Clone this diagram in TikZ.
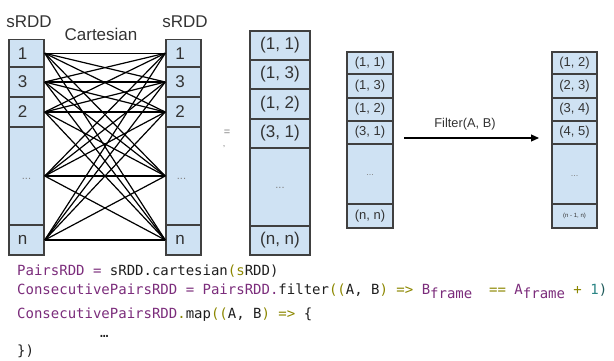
\documentclass[tikz,border=0pt]{standalone}
\usepackage{fontspec}
\setmainfont{Liberation Sans}
\setmonofont{DejaVu Sans Mono}
\usetikzlibrary{arrows.meta}

\definecolor{cellfill}{HTML}{CFE2F3}
\definecolor{cellline}{HTML}{404040}
\definecolor{labeltext}{HTML}{333333}
\definecolor{dotgray}{HTML}{808080}
\definecolor{kwpurple}{HTML}{7B2C7B}
\definecolor{opolive}{HTML}{8C8700}
\definecolor{numteal}{HTML}{2A8585}
\definecolor{parteal}{HTML}{1F5A5A}
\definecolor{codeink}{HTML}{1E1E1E}

\newcommand{\dotsgray}[1]{{\color{dotgray}\fontsize{#1}{#1}\selectfont ...}}
\newcommand{\subframe}{\raisebox{-4.5pt}{frame}}

\begin{document}
\begin{tikzpicture}[x=1pt,y=-1pt,
  cell/.style={draw=cellline, fill=cellfill, line width=1.5pt, inner sep=0pt, text=labeltext},
  bigcell/.style={cell, font=\fontsize{17}{19}\selectfont},
  midcell/.style={cell, font=\fontsize{13}{15}\selectfont},
  leftcol/.style={bigcell, minimum width=35pt},
  paircol/.style={bigcell, minimum width=60pt},
  midcol/.style={midcell, minimum width=46pt},
  endcol/.style={midcell, minimum width=45pt},
  heading/.style={text=labeltext, font=\fontsize{17}{19}\selectfont, inner sep=0pt},
  link/.style={draw=black, line width=1.2pt},
  code/.style={font=\ttfamily\fontsize{14}{16}\selectfont, text=codeink, inner sep=0pt, anchor=base west}
]
\useasboundingbox (0,0) rectangle (614,361);

% headings
\node[heading] (hl) at (29,22) {sRDD};
\node[heading] (hc) at (101,34) {Cartesian};
\node[heading] (hr) at (185,22) {sRDD};

% first sRDD column
\node[leftcol, minimum height=27.5pt] (L1) at (26.5,53.25) {1\kern8pt};
\node[leftcol, minimum height=30pt] (L3) at (26.5,82) {3\kern8pt};
\node[leftcol, minimum height=30pt] (L2) at (26.5,112) {2\kern8pt};
\node[leftcol, minimum height=98pt] (Ld) at (26.5,176) {\raisebox{-7pt}{\dotsgray{11}}};
\node[leftcol, minimum height=30pt] (Ln) at (26.5,240) {n\kern8pt};

% second sRDD column
\node[leftcol, minimum height=27.5pt] (R1) at (183.5,53.25) {1\kern7pt};
\node[leftcol, minimum height=30pt] (R3) at (183.5,82) {3\kern7pt};
\node[leftcol, minimum height=30pt] (R2) at (183.5,112) {2\kern7pt};
\node[leftcol, minimum height=98pt] (Rd) at (183.5,176) {\raisebox{-7pt}{\dotsgray{11}\kern4pt}};
\node[leftcol, minimum height=30pt] (Rn) at (183.5,240) {n\kern7pt};

% every element paired with every element
\foreach \a in {L1,L3,L2,Ld,Ln}
  \foreach \b in {R1,R3,R2,Rd,Rn}
    \draw[link] (\a.east) -- (\b.west);

% equals sign
\node[text=dotgray, font=\fontsize{11}{12}\selectfont, inner sep=0pt] (eq) at (227,133) {=};
\node[text=dotgray, font=\fontsize{9}{10}\selectfont, inner sep=0pt] (cm) at (224,147) {,};

% cartesian pairs
\node[paircol, minimum height=29pt] (P1) at (280,45.5) {(1, 1)};
\node[paircol, minimum height=29pt] (P2) at (280,74.5) {(1, 3)};
\node[paircol, minimum height=30pt] (P3) at (280,104) {(1, 2)};
\node[paircol, minimum height=29pt] (P4) at (280,133.5) {(3, 1)};
\node[paircol, minimum height=78pt] (Pd) at (280,187) {\raisebox{-3pt}{\dotsgray{11}}};
\node[paircol, minimum height=29pt] (Pn) at (280,240.5) {(n, n)};

% pairs before filtering
\node[midcol, minimum height=22pt] (M1) at (370,63) {(1, 1)};
\node[midcol, minimum height=24pt] (M2) at (370,86) {(1, 3)};
\node[midcol, minimum height=23pt] (M3) at (370,109.5) {(1, 2)};
\node[midcol, minimum height=23pt] (M4) at (370,132.5) {(3, 1)};
\node[midcol, minimum height=60pt] (Md) at (370,174) {\raisebox{-2pt}{\dotsgray{9}}};
\node[midcol, minimum height=24pt] (Mn) at (370,216) {(n, n)};

% consecutive pairs
\node[endcol, minimum height=22pt] (E1) at (574.5,63) {(1, 2)};
\node[endcol, minimum height=24pt] (E2) at (574.5,86) {(2, 3)};
\node[endcol, minimum height=23pt] (E3) at (574.5,109.5) {(3, 4)};
\node[endcol, minimum height=23pt] (E4) at (574.5,132.5) {(4, 5)};
\node[endcol, minimum height=60pt] (Ed) at (574.5,174) {\raisebox{-4pt}{\dotsgray{9}}};
\node[endcol, minimum height=24pt] (En) at (574.5,216) {\fontsize{6}{7}\selectfont(n - 1, n)};

% filter step
\coordinate (fs) at (404,138);
\coordinate (fe) at (539,138);
\draw[line width=1.1pt, -{Triangle[length=8pt,width=7pt]}] (fs) -- (fe);
\node[text=labeltext, font=\fontsize{12.8}{14}\selectfont, inner sep=0pt] (fl) at (465,124) {Filter(A, B)};

% code
\node[code] (c1) at (17,275) {\color{kwpurple}PairsRDD = \color{codeink}sRDD.cartesian\color{opolive}(s\color{codeink}RDD)};
\node[code] (c2) at (17,294) {\color{kwpurple}ConsecutivePairsRDD = PairsRDD.\color{codeink}filter\color{opolive}((\color{codeink}A, B\color{opolive}) => \color{kwpurple}B\subframe\color{opolive}\ \ == \color{kwpurple}A\subframe\color{opolive}\ + \color{numteal}1\color{parteal})};
\node[code] (c3) at (17,318) {\color{kwpurple}ConsecutivePairsRDD\color{opolive}.\color{codeink}map\color{opolive}((\color{codeink}A, B\color{opolive}) => \color{codeink}\{};
\node[code] (c4) at (100,337) {…};
\node[code] (c5) at (17,355) {\})};
\end{tikzpicture}
\end{document}
